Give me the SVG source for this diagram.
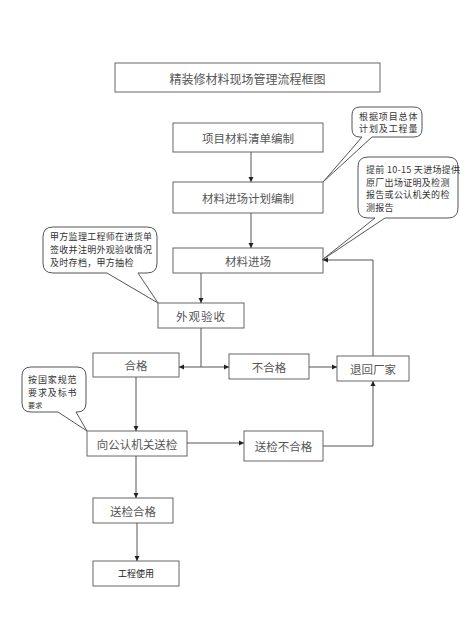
<svg xmlns="http://www.w3.org/2000/svg" width="474" height="622" viewBox="0 0 474 622">
<style>
.box{fill:#fff;stroke:#666;stroke-width:1}
.t{font-family:"Noto Sans CJK SC","Liberation Serif",serif;font-size:11.5px;fill:#555;text-anchor:middle;dominant-baseline:central}
.c{fill:#fff;stroke:#555;stroke-width:1}
.ct{font-family:"Noto Sans CJK SC","Liberation Sans",sans-serif;font-size:9px;fill:#333;letter-spacing:0.3px}
.ln{fill:none;stroke:#555;stroke-width:1}
</style>
<defs>
<marker id="ah" markerWidth="6" markerHeight="6" refX="5" refY="3" orient="auto" markerUnits="userSpaceOnUse">
<path d="M0,0.5 L5,3 L0,5.5 Z" fill="#222"/>
</marker>
</defs>
<rect width="474" height="622" fill="#fff"/>
<g id="title"><rect class="box" x="115" y="63" width="265" height="29"/><text class="t" x="247.5" y="78" style="font-size:12px">精装修材料现场管理流程框图</text></g>
<g id="n1"><rect class="box" x="173" y="123" width="150" height="29"/><text class="t" x="248" y="138">项目材料清单编制</text></g>
<g id="n2"><rect class="box" x="173" y="182" width="150" height="31"/><text class="t" x="248" y="198">材料进场计划编制</text></g>
<g id="n3"><rect class="box" x="173" y="248" width="150" height="25"/><text class="t" x="248" y="261">材料进场</text></g>
<g id="n4"><rect class="box" x="158" y="303" width="86" height="25"/><text class="t" x="201" y="316" style="letter-spacing:1px">外观验收</text></g>
<g id="n5"><rect class="box" x="93" y="353" width="86" height="24"/><text class="t" x="136" y="365">合格</text></g>
<g id="n6"><rect class="box" x="229" y="354" width="80" height="25"/><text class="t" x="269" y="367">不合格</text></g>
<g id="n7"><rect class="box" x="337" y="356" width="72" height="25"/><text class="t" x="373" y="369">退回厂家</text></g>
<g id="n8"><rect class="box" x="87" y="431" width="100" height="25"/><text class="t" x="137" y="444">向公认机关送检</text></g>
<g id="n9"><rect class="box" x="244" y="431" width="79" height="30"/><text class="t" x="283.5" y="446">送检不合格</text></g>
<g id="n10"><rect class="box" x="93" y="498" width="80" height="25"/><text class="t" x="133" y="511">送检合格</text></g>
<g id="n11"><rect class="box" x="93" y="561" width="86" height="25"/><text class="t" x="136" y="573" style="font-size:9px;fill:#222">工程使用</text></g>
<g id="callout1"><path class="c" d="M360,107 H414 Q422,107 422,115 V129 Q422,137 414,137 H372 L323,182 L362,137 H360 Q352,137 352,129 V115 Q352,107 360,107 Z"/><text class="ct" x="359" y="120" style="letter-spacing:0.9px">根据项目总体</text><text class="ct" x="359" y="132" style="letter-spacing:0.9px">计划及工程量</text></g>
<g id="callout2"><path class="c" d="M368,157 H448 Q458,157 458,167 V208 Q458,218 448,218 H385 L322,260 L375,218 H368 Q358,218 358,208 V167 Q358,157 368,157 Z"/><text class="ct" x="366" y="173">提前 10-15 天进场提供</text><text class="ct" x="366" y="185.5">原厂出场证明及检测</text><text class="ct" x="366" y="198">报告或公认机关的检</text><text class="ct" x="366" y="210.5">测报告</text></g>
<g id="callout3"><path class="c" d="M53,227 H147 Q157,227 157,237 V263 Q157,273 147,273 H138 L158,303 L107,273 H53 Q43,273 43,263 V237 Q43,227 53,227 Z"/><text class="ct" x="50" y="240">甲方监理工程师在进货单</text><text class="ct" x="50" y="253">签收并注明外观验收情况</text><text class="ct" x="50" y="266">及时存档，甲方抽检</text></g>
<g id="callout4"><path class="c" d="M31,367 H77 Q86,367 86,376 V403 Q86,412 77,412 H76 L87,431 L58,412 H31 Q22,412 22,403 V376 Q22,367 31,367 Z"/><text class="ct" x="28" y="383" style="letter-spacing:0.9px">按国家规范</text><text class="ct" x="28" y="396" style="letter-spacing:0.9px">要求及标书</text><text class="ct" x="28" y="408" style="font-size:7px">要求</text></g>
<g id="connectors">
<path class="ln" d="M251,152 V182" marker-end="url(#ah)"/>
<path class="ln" d="M251,213 V248" marker-end="url(#ah)"/>
<path class="ln" d="M201,273 V303" marker-end="url(#ah)"/>
<path class="ln" d="M201,328 V367 H179" marker-end="url(#ah)"/>
<path class="ln" d="M201,367 H229" marker-end="url(#ah)"/>
<path class="ln" d="M309,367 H337" marker-end="url(#ah)"/>
<path class="ln" d="M373,356 V260 H323" marker-end="url(#ah)"/>
<path class="ln" d="M136,377 V431" marker-end="url(#ah)"/>
<path class="ln" d="M187,443 H244" marker-end="url(#ah)"/>
<path class="ln" d="M323,446 H373 V381" marker-end="url(#ah)"/>
<path class="ln" d="M136,456 V498" marker-end="url(#ah)"/>
<path class="ln" d="M137,523 V561" marker-end="url(#ah)"/>
</g>
</svg>
